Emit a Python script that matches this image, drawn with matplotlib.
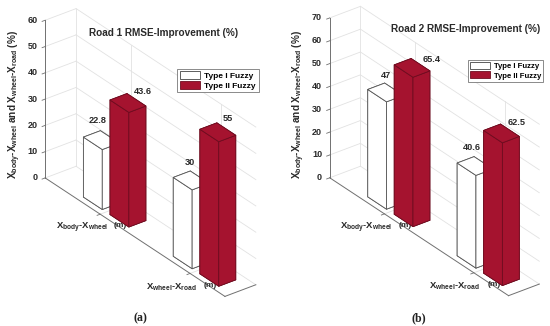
"""Two 3D bar panels: RMSE improvement on road 1 and road 2."""

import matplotlib
matplotlib.use("Agg")
import matplotlib.pyplot as plt
from matplotlib.patches import Patch
from mpl_toolkits.mplot3d import proj3d

plt.rcParams['font.family'] = ['Liberation Sans', 'DejaVu Sans']
plt.rcParams['mathtext.default'] = 'regular'

categories = ["X$_{body}$-X$_{wheel}$", "X$_{wheel}$-X$_{road}$"]
series_names = ["Type I Fuzzy", "Type II Fuzzy"]
road1_type1 = [22.8, 30]
road1_type2 = [43.6, 55]
road2_type1 = [47, 40.6]
road2_type2 = [65.4, 62.5]
road1_ticks = [0, 10, 20, 30, 40, 50, 60]
road2_ticks = [0, 10, 20, 30, 40, 50, 60, 70]

FIG_W, FIG_H = 550, 326
RED = '#a5132f'
RED_EDGE = '#6e0d20'
WHITE = '#ffffff'
GRID = '#e2e2e2'
AXIS = '#707070'
TEXT = '#2a2a2a'
XLIM = (0.388, 2.388)
BAR_W = 0.21
OFFSETS = [-0.252, 0.044]
Y0, DEPTH = 0.19, 0.55


def label_at(ax, x, y, z, text, dx=0, dy=0, **kw):
    # place a 2D annotation relative to a projected 3D point
    px, py, _ = proj3d.proj_transform(x, y, z, ax.get_proj())
    return ax.annotate(text, (px, py), xytext=(dx, dy), textcoords='offset points',
                       annotation_clip=False, **kw)


def draw_panel(fig, center, zpx, type1, type2, zticks, title, title_xy, leg_xy, leg_size,
               ylabel_x, value_offsets, sub):
    side = 341
    left = center[0] - 0.5135 * side
    bottom = FIG_H - center[1] - 0.5135 * side
    ax = fig.add_axes([left / FIG_W, bottom / FIG_H, side / FIG_W, side / FIG_H],
                      projection='3d', proj_type='ortho')
    ax.computed_zorder = False
    ax.patch.set_alpha(0)
    ax.set_axis_off()
    ax.view_init(elev=29.9, azim=-37.1)
    ax.set_xlim(*XLIM)
    ax.set_ylim(0, 1)
    zmax = zticks[-1]
    ax.set_zlim(0, zmax)
    ax.set_box_aspect((298.5, 38.8, zpx / 0.867))

    x0, x1 = XLIM
    # walls
    for z in zticks:
        ax.plot([x0, x0], [0, 1], [z, z], color=GRID, lw=0.6, zorder=1)
        ax.plot([x0, x1], [1, 1], [z, z], color=GRID, lw=0.6, zorder=1)
    ax.plot([x0, x0], [1, 1], [0, zmax], color=GRID, lw=0.6, zorder=1)
    for xt in [1, 2]:
        ax.plot([xt, xt], [1, 1], [0, zmax], color=GRID, lw=0.6, zorder=1)
        ax.plot([xt, xt], [0, 1], [0, 0], color=GRID, lw=0.6, zorder=1)

    # axis lines and ticks
    ax.plot([x0, x0], [0, 0], [0, zmax], color=AXIS, lw=0.7, zorder=2)
    ax.plot([x0, x1], [0, 0], [0, 0], color=AXIS, lw=0.7, zorder=2)
    ax.plot([x1, x1], [0, 1], [0, 0], color=AXIS, lw=0.7, zorder=2)
    for z in zticks:
        ax.plot([x0, x0], [0, -0.1], [z, z], color=AXIS, lw=0.6, zorder=2)
        label_at(ax, x0, 0, z, str(z), dx=-5.5, dy=0, ha='right', va='center',
                 fontsize=6.5, fontweight='bold', color=TEXT, zorder=3)
    for xt, cat in zip([1, 2], categories):
        ax.plot([xt, xt], [0, -0.1], [0, 0], color=AXIS, lw=0.6, zorder=2)
        label_at(ax, xt, 0, 0, cat, dx=-32, dy=-10, ha='left', va='center',
                 fontsize=6.8, fontweight='bold', color=TEXT, zorder=3)
        label_at(ax, xt, 0, 0, "(m)", dx=10, dy=-8.5, ha='left', va='center',
                 fontsize=6, fontweight='bold', color=TEXT, zorder=3)

    # bars, back to front
    order = 4
    k = 0
    for i in range(2):
        for vals, off, col, edge in [(type1, OFFSETS[0], WHITE, '#555555'),
                                     (type2, OFFSETS[1], RED, RED_EDGE)]:
            xb = i + 1 + off
            ax.bar3d(xb, Y0, 0, BAR_W, DEPTH, vals[i], color=col, edgecolor=edge,
                     linewidth=0.6, shade=False, zorder=order)
            dx, dy = value_offsets[k]
            label_at(ax, xb + BAR_W / 2, Y0 + DEPTH / 2, vals[i], f"{vals[i]:g}",
                     dx=dx, dy=dy, ha='center', va='center', fontsize=6.6,
                     fontweight='bold', color=TEXT, zorder=20)
            order += 1
            k += 1

    fig.text(title_xy[0] / FIG_W, 1 - title_xy[1] / FIG_H, title, ha='center', va='center',
             fontsize=7.2, fontweight='bold', color=TEXT, zorder=30)
    fig.text(ylabel_x / FIG_W, 1 - 105 / FIG_H,
             "X$_{body}$-X$_{wheel}$ and X$_{wheel}$-X$_{road}$ (%)",
             rotation=90, ha='center', va='center', fontsize=7.2,
             fontweight='bold', color=TEXT, zorder=30)
    handles = [Patch(facecolor=WHITE, edgecolor='#444444', lw=0.6),
               Patch(facecolor=RED, edgecolor=RED_EDGE, lw=0.6)]
    leg = fig.legend(handles, series_names, loc='upper left',
                     bbox_to_anchor=(leg_xy[0] / FIG_W, 1 - leg_xy[1] / FIG_H),
                     borderaxespad=0, fancybox=False, framealpha=1,
                     edgecolor='#777777', handlelength=2.5, handleheight=1.0,
                     handletextpad=0.5, labelspacing=0.12, borderpad=0.3,
                     prop={'size': leg_size, 'weight': 'bold'})
    leg.get_frame().set_linewidth(0.6)
    leg.set_zorder(30)
    fig.text(sub[1] / FIG_W, 1 - 318 / FIG_H, sub[0], ha='center', va='center',
             fontsize=8.5, family='Liberation Serif', fontweight='bold', color='#222222')


fig = plt.figure(figsize=(FIG_W / 100, FIG_H / 100), dpi=100)
draw_panel(fig, (150.5, 152.5), 158, road1_type1, road1_type2, road1_ticks,
           "Road 1 RMSE-Improvement (%)", (164, 33), (177, 69), 6.0, 15,
           [(-3, 14), (11, 8), (-1, 13), (7, 10)], ("(a)", 140))
draw_panel(fig, (434.5, 151), 161, road2_type1, road2_type2, road2_ticks,
           "Road 2 RMSE-Improvement (%)", (466, 29), (468, 60), 5.6, 299,
           [(0, 12), (14, 6), (-2, 13), (11, 8)], ("(b)", 419))
fig.savefig("out.png", dpi=100)
